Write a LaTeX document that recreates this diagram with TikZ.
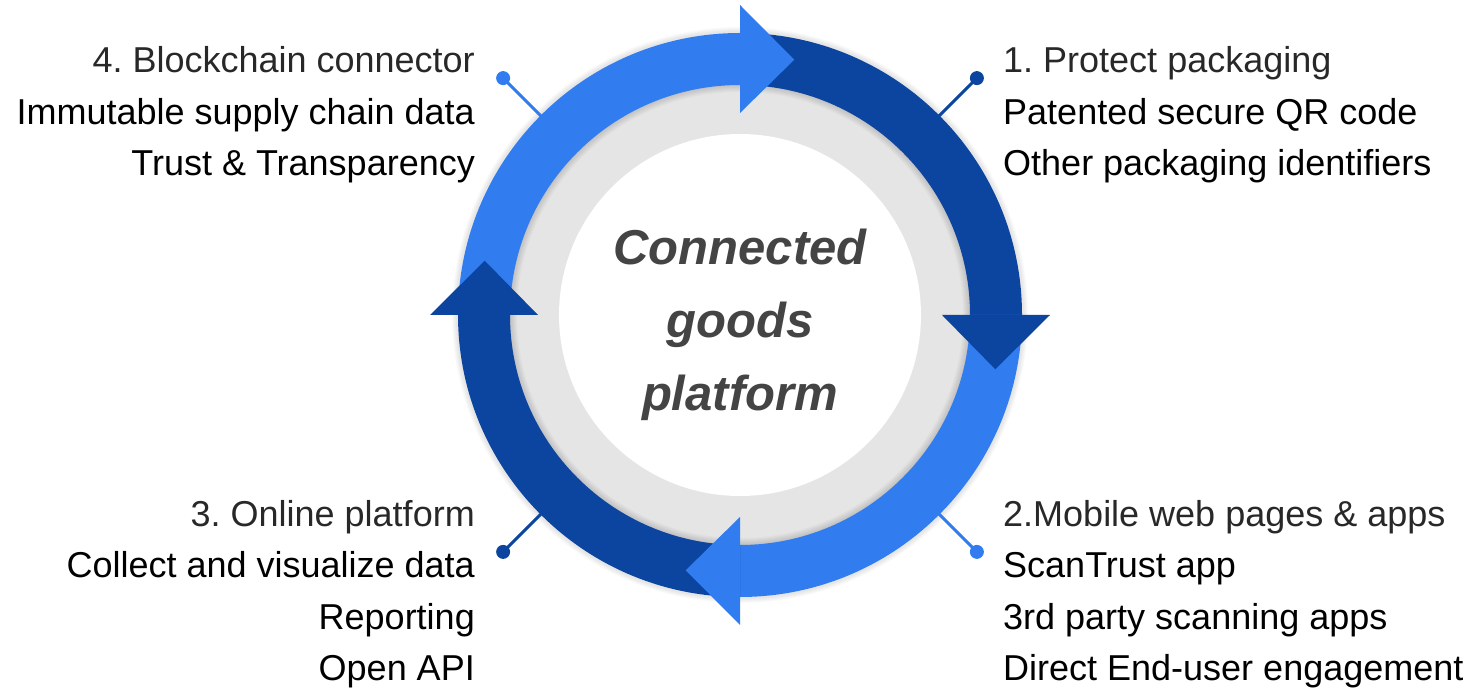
\documentclass[tikz,border=0pt]{standalone}
\usepackage{fontspec}
\setmainfont{Liberation Sans}
\usepackage{xcolor}
\frenchspacing

\definecolor{lightblue}{RGB}{49,125,240}
\definecolor{darkblue}{RGB}{11,69,160}
\definecolor{ringgray}{RGB}{229,229,229}
\definecolor{titlegray}{RGB}{68,68,68}
\definecolor{headgray}{RGB}{40,40,40}

\tikzset{
  pin dot/.style={circle,fill=#1,inner sep=0pt,minimum size=14pt},
  head text/.style={text=headgray,inner sep=0pt,font=\fontsize{36}{36}\selectfont},
  body text/.style={text=black,inner sep=0pt,font=\fontsize{36}{36}\selectfont},
}

\begin{document}
\begin{tikzpicture}[x=1pt,y=1pt]
\useasboundingbox (0,0) rectangle (1467,688);
\begin{scope}[shift={(740,373)}]
% disc behind the ring
\fill[ringgray] (0,0) circle (232);
\fill[white] (0,0) circle (181);
\foreach \w in {2,4,...,16}
  \draw[black,opacity=0.02,line width=\w] (0,0) circle (231);
\foreach \w in {2,4,...,10}
  \draw[black,opacity=0.02,line width=\w] (0,0) circle (283);
% ring shafts
\fill[darkblue] (90:282) arc[start angle=90,end angle=0,radius=282] -- (0:230) arc[start angle=0,end angle=90,radius=230] -- cycle;
\fill[lightblue] (0:282) arc[start angle=0,end angle=-90,radius=282] -- (-90:230) arc[start angle=-90,end angle=0,radius=230] -- cycle;
\fill[darkblue] (-90:282) arc[start angle=-90,end angle=-180,radius=282] -- (-180:230) arc[start angle=-180,end angle=-90,radius=230] -- cycle;
\fill[lightblue] (180:282) arc[start angle=180,end angle=90,radius=282] -- (90:230) arc[start angle=90,end angle=180,radius=230] -- cycle;
% arrow heads
\fill[darkblue] (0:310) -- (-12:261) -- (0:202) -- cycle;
\fill[lightblue] (-90:310) -- (-102:261) -- (-90:202) -- cycle;
\fill[darkblue] (180:310) -- (168:261) -- (180:202) -- cycle;
\fill[lightblue] (90:310) -- (78:261) -- (90:202) -- cycle;
% pins
\node[pin dot=darkblue] (p1) at (45:335) {};
\node[pin dot=lightblue] (p2) at (-45:335) {};
\node[pin dot=darkblue] (p3) at (-135:335) {};
\node[pin dot=lightblue] (p4) at (135:335) {};
\coordinate (r1) at (45:280);
\coordinate (r2) at (-45:280);
\coordinate (r3) at (-135:280);
\coordinate (r4) at (135:280);
\draw[darkblue,line width=3pt] (p1.center) -- (r1);
\draw[lightblue,line width=3pt] (p2.center) -- (r2);
\draw[darkblue,line width=3pt] (p3.center) -- (r3);
\draw[lightblue,line width=3pt] (p4.center) -- (r4);
% centre title
\node[align=center,text=titlegray,font=\bfseries\itshape\fontsize{49}{73}\selectfont] (title) at (0,-10) {Connected\\goods\\platform};
\end{scope}
% 1. top right
\node[head text,anchor=base west] (t1a) at (1003,615) {1. Protect packaging};
\node[body text,anchor=base west] (t1b) at (1003,563) {Patented secure QR code};
\node[body text,anchor=base west] (t1c) at (1003,512) {Other packaging identifiers};
% 2. bottom right
\node[head text,anchor=base west] (t2a) at (1003,161) {2.Mobile web pages \& apps};
\node[body text,anchor=base west] (t2b) at (1003,110) {ScanTrust app};
\node[body text,anchor=base west] (t2c) at (1003,58) {3rd party scanning apps};
\node[body text,anchor=base west] (t2d) at (1003,8) {Direct End-user engagement};
% 3. bottom left
\node[head text,anchor=base east] (t3a) at (475,161) {3. Online platform};
\node[body text,anchor=base east] (t3b) at (475,110) {Collect and visualize data};
\node[body text,anchor=base east] (t3c) at (475,58) {Reporting};
\node[body text,anchor=base east] (t3d) at (475,8) {Open API};
% 4. top left
\node[head text,anchor=base east] (t4a) at (475,615) {4. Blockchain connector};
\node[body text,anchor=base east] (t4b) at (475,563) {Immutable supply chain data};
\node[body text,anchor=base east] (t4c) at (475,512) {Trust \& Transparency};
\end{tikzpicture}
\end{document}
